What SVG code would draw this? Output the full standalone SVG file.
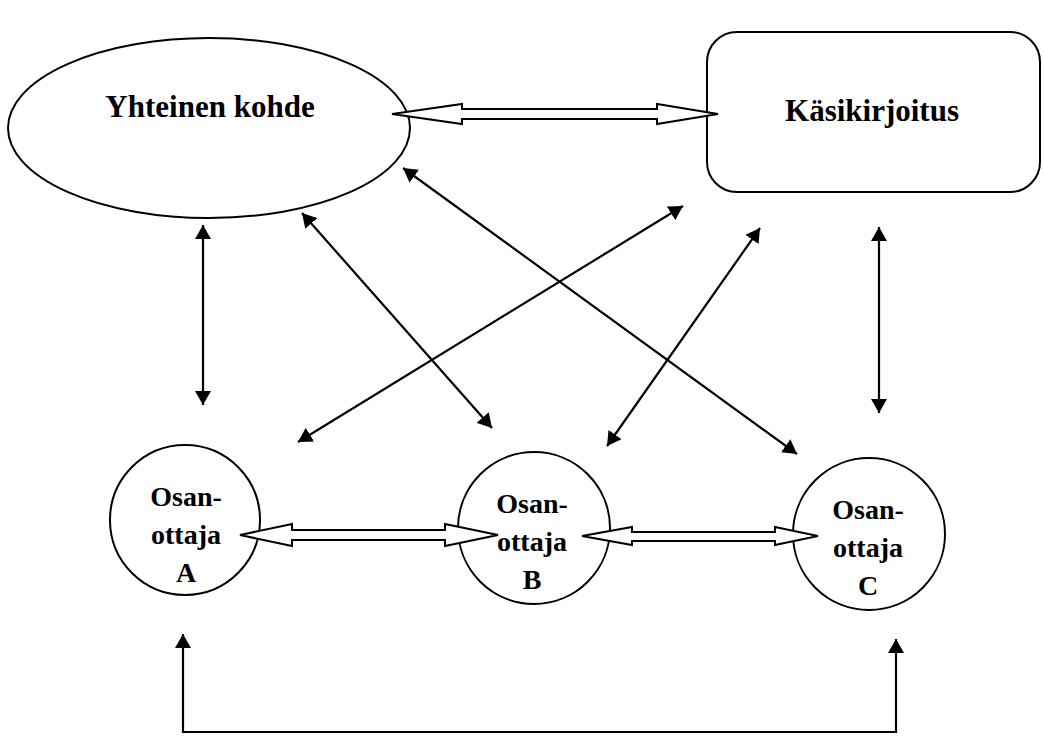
<svg xmlns="http://www.w3.org/2000/svg" width="1044" height="736" viewBox="0 0 1044 736">
<style>
.shape{fill:#fff;stroke:#000;stroke-width:2}
.lbl{font-family:"Liberation Serif","Times New Roman",serif;font-weight:bold;font-size:28px;text-anchor:middle;fill:#000}
.big{font-size:31px}
.line{fill:none;stroke:#000;stroke-width:2.2}
.hollow{fill:#fff;stroke:#000;stroke-width:2}
</style>
<defs>
<marker id="ah" viewBox="0 0 14 16" refX="14" refY="8" markerWidth="14" markerHeight="16" markerUnits="userSpaceOnUse" orient="auto-start-reverse">
<path d="M0,0 L14,8 L0,16 z" fill="#000"/>
</marker>
</defs>
<g id="yhteinen">
<ellipse class="shape" cx="209" cy="128" rx="201" ry="90"/>
<text class="lbl big" x="210" y="117">Yhteinen kohde</text>
</g>
<g id="kasikirjoitus">
<rect class="shape" x="707" y="32" width="333" height="160" rx="30" ry="30"/>
<text class="lbl big" x="872" y="121">Käsikirjoitus</text>
</g>
<g id="osanottajaA">
<circle class="shape" cx="185" cy="520" r="75"/>
<text class="lbl" x="186" y="506">Osan-</text>
<text class="lbl" x="186" y="544">ottaja</text>
<text class="lbl" x="186" y="582">A</text>
</g>
<g id="osanottajaB">
<circle class="shape" cx="534" cy="528" r="76"/>
<text class="lbl" x="532" y="513">Osan-</text>
<text class="lbl" x="532" y="551">ottaja</text>
<text class="lbl" x="532" y="589">B</text>
</g>
<g id="osanottajaC">
<circle class="shape" cx="869" cy="534" r="76"/>
<text class="lbl" x="868" y="519">Osan-</text>
<text class="lbl" x="868" y="557">ottaja</text>
<text class="lbl" x="868" y="595">C</text>
</g>
<g id="connectors">
<polygon class="hollow" points="392,114 462,104 462,109 657,109 657,104 718,114 657,124 657,119 462,119 462,124"/>
<polygon class="hollow" points="240,535 292,524 292,530 445,530 445,524 498,535 445,546 445,540 292,540 292,546"/>
<polygon class="hollow" points="582,536 632,527 632,532 775,532 775,527 818,536 775,545 775,541 632,541 632,545"/>
<line class="line" x1="203" y1="225" x2="203" y2="405" marker-start="url(#ah)" marker-end="url(#ah)"/>
<line class="line" x1="879" y1="227" x2="879" y2="413" marker-start="url(#ah)" marker-end="url(#ah)"/>
<line class="line" x1="302" y1="213" x2="492" y2="428" marker-start="url(#ah)" marker-end="url(#ah)"/>
<line class="line" x1="403" y1="168" x2="797" y2="454" marker-start="url(#ah)" marker-end="url(#ah)"/>
<line class="line" x1="683" y1="206" x2="298" y2="442" marker-start="url(#ah)" marker-end="url(#ah)"/>
<line class="line" x1="760" y1="228" x2="607" y2="446" marker-start="url(#ah)" marker-end="url(#ah)"/>
<polyline class="line" points="183,634 183,732 896,732 896,639" marker-start="url(#ah)" marker-end="url(#ah)"/>
</g>
</svg>
